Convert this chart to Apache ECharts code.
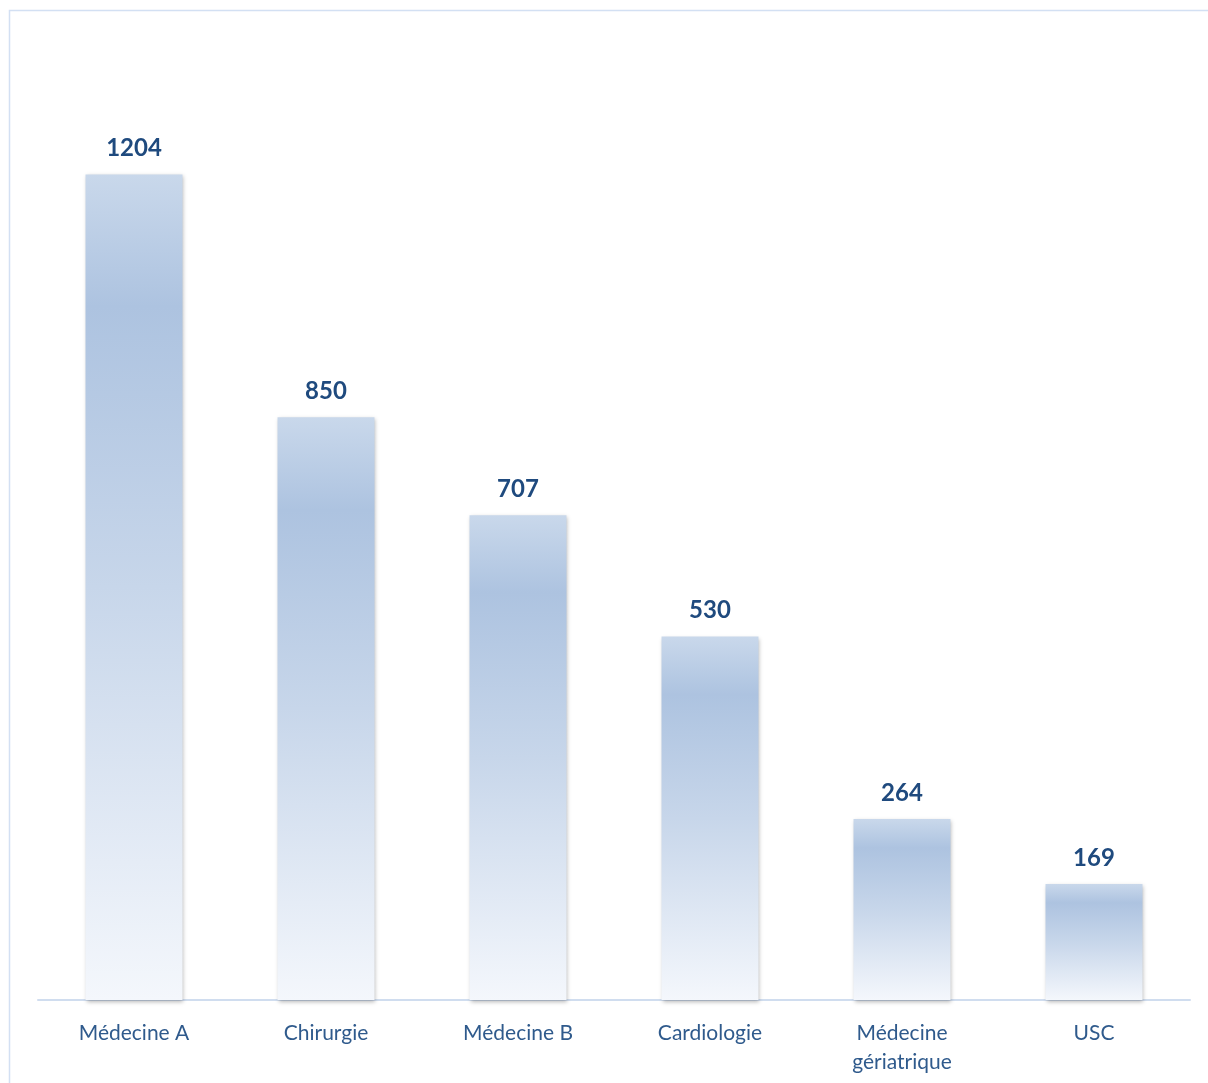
<!DOCTYPE html>
<html>
<head>
<meta charset="utf-8">
<script src="https://cdn.jsdelivr.net/npm/echarts@6/dist/echarts.min.js"></script>
<style>html,body{margin:0;padding:0;background:#fff;}#c{width:1208px;height:1083px;}</style>
</head>
<body>
<div id="c"></div>
<script>
const categories = ['Médecine A', 'Chirurgie', 'Médecine B', 'Cardiologie', 'Médecine\ngériatrique', 'USC'];
const values = [1204, 850, 707, 530, 264, 169];

const chart = echarts.init(document.getElementById('c'));
chart.setOption({
  animation: false,
  backgroundColor: '#ffffff',
  graphic: [{
    type: 'rect', silent: true,
    shape: { x: 9.5, y: 10.5, width: 1400, height: 1400 },
    style: { fill: 'none', stroke: '#d3e0f3', lineWidth: 1.5 }
  }],
  grid: { left: 38, right: 18, top: 40, bottom: 83 },
  xAxis: {
    type: 'category',
    data: categories,
    axisLine: { lineStyle: { color: '#d0ddef', width: 2 } },
    axisTick: { show: false },
    axisLabel: {
      color: '#2f5a8c', fontSize: 21, fontFamily: 'Lato, Open Sans, sans-serif',
      margin: 19, lineHeight: 29, interval: 0
    }
  },
  yAxis: {
    type: 'value', min: 0, max: 1400,
    show: false, splitLine: { show: false }
  },
  series: [{
    type: 'bar',
    data: values,
    barWidth: '50.5%',
    itemStyle: {
      color: new echarts.graphic.LinearGradient(0, 0, 0, 1, [
        { offset: 0, color: '#c9d8eb' },
        { offset: 0.16, color: '#adc3e0' },
        { offset: 0.5, color: '#c7d6ea' },
        { offset: 1, color: '#f4f7fc' }
      ]),
      shadowColor: 'rgba(0,0,0,0.28)',
      shadowBlur: 4,
      shadowOffsetX: 1,
      shadowOffsetY: 2
    },
    label: {
      show: true, position: 'top', distance: 14,
      color: '#1f4a7e', fontSize: 24, fontWeight: 'bold',
      fontFamily: 'Lato, Open Sans, sans-serif'
    }
  }]
});
</script>
</body>
</html>
